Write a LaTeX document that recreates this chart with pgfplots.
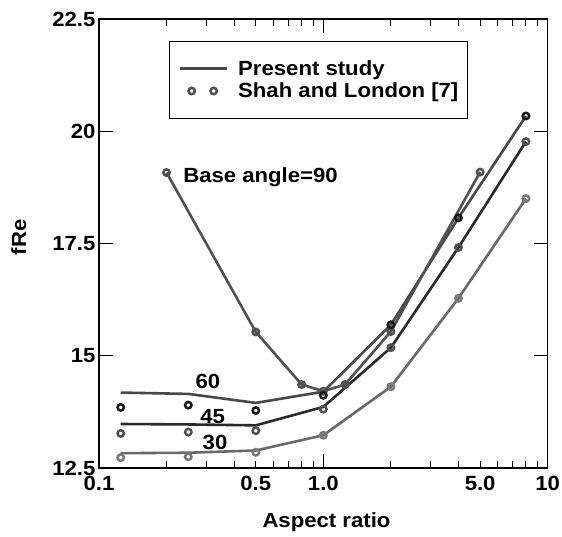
\documentclass[border=0pt]{standalone}
\usepackage{fontspec}
\setmainfont{Liberation Sans}[FakeStretch=1.08]
\usepackage{pgfplots}
\pgfplotsset{compat=1.18}
\definecolor{cNine}{RGB}{80,80,80}
\definecolor{cSixL}{RGB}{72,72,72}
\definecolor{cSixM}{RGB}{25,25,25}
\definecolor{cFourL}{RGB}{42,42,42}
\definecolor{cFourM}{RGB}{80,80,80}
\definecolor{cThreeL}{RGB}{105,105,105}
\definecolor{cThreeM}{RGB}{120,120,120}
\newcommand{\bigf}{\bfseries\fontsize{20.5}{24}\selectfont}
\pgfplotsset{
  ring/.style={mark=o, mark size=3.2pt, mark options={solid, line width=2.5pt}},
  legline/.style={legend image code/.code={\draw[##1] (0pt,0pt) -- (47pt,0pt);}},
  legmarks/.style={legend image code/.code={\draw[##1] plot coordinates {(11.5pt,0pt) (33.5pt,0pt)};}},
}
\begin{document}
\begin{tikzpicture}
\begin{axis}[
  scale only axis, width=448.7pt, height=449pt,
  xmode=log, log basis x=10,
  xmin=0.1, xmax=10, ymin=12.5, ymax=22.5,
  xtick={0.1,1,10}, xticklabels={0.1,1.0,10},
  extra x ticks={0.5,5}, extra x tick labels={0.5,5.0},
  extra x tick style={major tick length=7pt},
  minor xtick={0.2,0.3,0.4,0.6,0.7,0.8,0.9,2,3,4,6,7,8,9},
  ytick={12.5,15,17.5,20,22.5}, yticklabels={12.5,15,17.5,20,22.5},
  tick align=inside, major tick length=14pt, minor tick length=7pt,
  tick style={black, line width=1pt},
  axis line style={line width=1.2pt},
  /pgf/number format/assume math mode=true,
  tick label style={font=\bigf},
  xticklabel style={yshift=-5pt},
  label style={font=\bigf},
  xlabel={Aspect ratio}, ylabel={fRe},
  xlabel style={at={(axis description cs:0.507,-0.12)}, anchor=center},
  ylabel style={at={(axis description cs:-0.179,0.514)}, anchor=center},
  legend style={at={(0.156,0.952)}, anchor=north west, draw=black, line width=1.2pt,
    fill=white, font=\bigf, inner xsep=9.3pt, inner ysep=16pt,
    nodes={inner xsep=0pt, inner ysep=3.1pt}, column sep=9.7pt, row sep=0pt},
  legend cell align=left,
]
\addlegendimage{cSixL, line width=2.6pt, legline}
\addlegendentry{Present study}
\addlegendimage{cNine, only marks, ring, legmarks}
\addlegendentry{Shah and London [7]}

% Present study lines
\addplot[cSixL, line width=2.6pt, forget plot] coordinates {
 (0.125,14.18) (0.25,14.15) (0.5,13.95) (1,14.20) (2,15.69) (4,18.07) (8,20.34)};
\addplot[cFourL, line width=2.6pt, forget plot] coordinates {
 (0.125,13.48) (0.25,13.47) (0.5,13.45) (1,13.86) (2,15.18) (4,17.41) (8,19.77)};
\addplot[cThreeL, line width=2.6pt, forget plot] coordinates {
 (0.125,12.83) (0.25,12.84) (0.5,12.89) (1,13.23) (2,14.31) (4,16.28) (8,18.50)};
% Base angle 90 (line with markers)
\addplot[cNine, line width=2.6pt, ring, forget plot] coordinates {
 (0.2,19.08) (0.5,15.53) (0.8,14.36) (1,14.21) (1.25,14.36) (2,15.54) (5,19.09)};
% Shah and London markers
\addplot[cSixM, only marks, ring, forget plot] coordinates {
 (0.125,13.85) (0.25,13.90) (0.5,13.78) (1,14.12) (2,15.69) (4,18.07) (8,20.34)};
\addplot[cFourM, only marks, ring, forget plot] coordinates {
 (0.125,13.27) (0.25,13.30) (0.5,13.33) (1,13.81) (2,15.18) (4,17.41) (8,19.77)};
\addplot[cThreeM, only marks, ring, forget plot] coordinates {
 (0.125,12.73) (0.25,12.75) (0.5,12.85) (1,13.23) (2,14.31) (4,16.28) (8,18.50)};

\node[font=\bigf, inner sep=0pt, anchor=west] at (axis cs:0.237,18.98) {Base angle=90};
\node[font=\bigf, inner sep=0pt] at (axis cs:0.306,14.43) {60};
\node[font=\bigf, inner sep=0pt] at (axis cs:0.321,13.64) {45};
\node[font=\bigf, inner sep=0pt] at (axis cs:0.329,13.06) {30};
\end{axis}
\pgfresetboundingbox
\path[use as bounding box] (-99pt,-68pt) rectangle (463pt,468pt);
\end{tikzpicture}
\end{document}
